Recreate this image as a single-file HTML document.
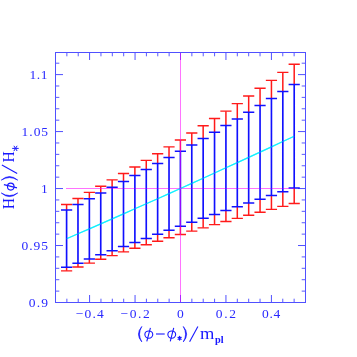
<!DOCTYPE html>
<html><head><meta charset="utf-8"><title>plot</title>
<style>
html,body{margin:0;padding:0;background:#fff;}
svg{display:block;font-family:"Liberation Serif",serif;}
</style></head><body>
<svg width="357" height="357" viewBox="0 0 357 357">
<defs><filter id="idf" x="0" y="0" width="357" height="357" filterUnits="userSpaceOnUse" color-interpolation-filters="sRGB"><feOffset dx="0" dy="0"/></filter></defs>
<rect width="357" height="357" fill="#fff"/>
<!-- frame -->
<g stroke="#5050ff" fill="none" stroke-width="1">
<rect x="55.5" y="52.5" width="250" height="250"/>
<path d="M89.59 52.5v7.5M89.59 302.5v-7.5M135.05 52.5v7.5M135.05 302.5v-7.5M180.50 52.5v7.5M180.50 302.5v-7.5M225.95 52.5v7.5M225.95 302.5v-7.5M271.41 52.5v7.5M271.41 302.5v-7.5M55.5 245.53h7.5M305.5 245.53h-7.5M55.5 188.55h7.5M305.5 188.55h-7.5M55.5 131.57h7.5M305.5 131.57h-7.5M55.5 74.60h7.5M305.5 74.60h-7.5"/>
<path stroke="#5a5aff" d="M66.86 52.5v3.8M66.86 302.5v-3.8M78.23 52.5v3.8M78.23 302.5v-3.8M100.96 52.5v3.8M100.96 302.5v-3.8M112.32 52.5v3.8M112.32 302.5v-3.8M123.68 52.5v3.8M123.68 302.5v-3.8M146.41 52.5v3.8M146.41 302.5v-3.8M157.77 52.5v3.8M157.77 302.5v-3.8M169.14 52.5v3.8M169.14 302.5v-3.8M191.86 52.5v3.8M191.86 302.5v-3.8M203.23 52.5v3.8M203.23 302.5v-3.8M214.59 52.5v3.8M214.59 302.5v-3.8M237.32 52.5v3.8M237.32 302.5v-3.8M248.68 52.5v3.8M248.68 302.5v-3.8M260.04 52.5v3.8M260.04 302.5v-3.8M282.77 52.5v3.8M282.77 302.5v-3.8M294.13 52.5v3.8M294.13 302.5v-3.8M55.5 291.11h3.8M305.5 291.11h-3.8M55.5 279.71h3.8M305.5 279.71h-3.8M55.5 268.31h3.8M305.5 268.31h-3.8M55.5 256.92h3.8M305.5 256.92h-3.8M55.5 234.13h3.8M305.5 234.13h-3.8M55.5 222.74h3.8M305.5 222.74h-3.8M55.5 211.34h3.8M305.5 211.34h-3.8M55.5 199.95h3.8M305.5 199.95h-3.8M55.5 177.16h3.8M305.5 177.16h-3.8M55.5 165.76h3.8M305.5 165.76h-3.8M55.5 154.37h3.8M305.5 154.37h-3.8M55.5 142.97h3.8M305.5 142.97h-3.8M55.5 120.18h3.8M305.5 120.18h-3.8M55.5 108.78h3.8M305.5 108.78h-3.8M55.5 97.39h3.8M305.5 97.39h-3.8M55.5 85.99h3.8M305.5 85.99h-3.8M55.5 63.20h3.8M305.5 63.20h-3.8"/>
</g>
<!-- red error bars -->
<g stroke="#ff1a1a" fill="none">
<path stroke-width="1.5" d="M66.60 204.49V210.05M66.60 267.36V270.87M77.98 198.48V204.44M77.98 263.17V266.95M89.36 192.38V198.78M89.36 258.99V263.10M100.74 186.19V193.06M100.74 254.83V259.31M112.12 179.89V187.28M112.12 250.69V255.58M123.50 173.50V181.44M123.50 246.57V251.91M134.88 167.00V175.53M134.88 242.47V248.30M146.26 160.40V169.55M146.26 238.39V244.75M157.64 153.70V163.51M157.64 234.33V241.25M169.02 146.89V157.39M169.02 230.30V237.82M180.40 139.97V151.20M180.40 226.30V234.44M191.78 132.94V144.92M191.78 222.32V231.12M203.16 125.79V138.57M203.16 218.37V227.85M214.54 118.53V132.13M214.54 214.46V224.63M225.92 111.15V125.60M225.92 210.57V221.47M237.30 103.65V118.99M237.30 206.72V218.36M248.68 96.03V112.28M248.68 202.91V215.30M260.06 88.29V105.48M260.06 199.13V212.29M271.44 80.42V98.57M271.44 195.40V209.33M282.82 72.42V91.57M282.82 191.70V206.41M294.20 64.29V84.46M294.20 188.04V203.55"/>
<path stroke-width="1.4" d="M61.00 204.49H72.20M61.00 270.87H72.20M72.38 198.48H83.58M72.38 266.95H83.58M83.76 192.38H94.96M83.76 263.10H94.96M95.14 186.19H106.34M95.14 259.31H106.34M106.52 179.89H117.72M106.52 255.58H117.72M117.90 173.50H129.10M117.90 251.91H129.10M129.28 167.00H140.48M129.28 248.30H140.48M140.66 160.40H151.86M140.66 244.75H151.86M152.04 153.70H163.24M152.04 241.25H163.24M163.42 146.89H174.62M163.42 237.82H174.62M174.80 139.97H186.00M174.80 234.44H186.00M186.18 132.94H197.38M186.18 231.12H197.38M197.56 125.79H208.76M197.56 227.85H208.76M208.94 118.53H220.14M208.94 224.63H220.14M220.32 111.15H231.52M220.32 221.47H231.52M231.70 103.65H242.90M231.70 218.36H242.90M243.08 96.03H254.28M243.08 215.30H254.28M254.46 88.29H265.66M254.46 212.29H265.66M265.84 80.42H277.04M265.84 209.33H277.04M277.22 72.42H288.42M277.22 206.41H288.42M288.60 64.29H299.80M288.60 203.55H299.80"/>
</g>
<path stroke="#10f0ff" stroke-width="1.15" fill="none" d="M66.60 238.75 L77.98 233.81 L89.36 228.86 L100.74 223.88 L112.12 218.89 L123.50 213.88 L134.88 208.84 L146.26 203.78 L157.64 198.71 L169.02 193.62 L180.40 188.50 L191.78 183.37 L203.16 178.21 L214.54 173.03 L225.92 167.84 L237.30 162.62 L248.68 157.39 L260.06 152.13 L271.44 146.86 L282.82 141.56 L294.20 136.25"/>
<path stroke="#ff00ff" stroke-opacity="0.4" stroke-width="1" fill="none" d="M66 188.5H294.5"/>
<!-- blue error bars -->
<g stroke="#1010ff" fill="none">
<path stroke-width="1.65" d="M66.60 210.05V267.36M77.98 204.44V263.17M89.36 198.78V258.99M100.74 193.06V254.83M112.12 187.28V250.69M123.50 181.44V246.57M134.88 175.53V242.47M146.26 169.55V238.39M157.64 163.51V234.33M169.02 157.39V230.30M180.40 151.20V226.30M191.78 144.92V222.32M203.16 138.57V218.37M214.54 132.13V214.46M225.92 125.60V210.57M237.30 118.99V206.72M248.68 112.28V202.91M260.06 105.48V199.13M271.44 98.57V195.40M282.82 91.57V191.70M294.20 84.46V188.04"/>
<path stroke-width="1.5" d="M61.00 210.05H72.20M61.00 267.36H72.20M72.38 204.44H83.58M72.38 263.17H83.58M83.76 198.78H94.96M83.76 258.99H94.96M95.14 193.06H106.34M95.14 254.83H106.34M106.52 187.28H117.72M106.52 250.69H117.72M117.90 181.44H129.10M117.90 246.57H129.10M129.28 175.53H140.48M129.28 242.47H140.48M140.66 169.55H151.86M140.66 238.39H151.86M152.04 163.51H163.24M152.04 234.33H163.24M163.42 157.39H174.62M163.42 230.30H174.62M174.80 151.20H186.00M174.80 226.30H186.00M186.18 144.92H197.38M186.18 222.32H197.38M197.56 138.57H208.76M197.56 218.37H208.76M208.94 132.13H220.14M208.94 214.46H220.14M220.32 125.60H231.52M220.32 210.57H231.52M231.70 118.99H242.90M231.70 206.72H242.90M243.08 112.28H254.28M243.08 202.91H254.28M254.46 105.48H265.66M254.46 199.13H265.66M265.84 98.57H277.04M265.84 195.40H277.04M277.22 91.57H288.42M277.22 191.70H288.42M288.60 84.46H299.80M288.60 188.04H299.80"/>
</g>
<!-- reference lines -->
<path stroke="#ff00ff" stroke-opacity="0.55" stroke-width="1" fill="none" d="M180.5 53V302"/>
<path stroke="#ff00ff" stroke-opacity="0.25" stroke-width="1" fill="none" d="M66 188.5H294.5"/>
<path stroke="#10f0ff" stroke-opacity="0.45" stroke-width="1.15" fill="none" d="M66.60 238.75 L77.98 233.81 L89.36 228.86 L100.74 223.88 L112.12 218.89 L123.50 213.88 L134.88 208.84 L146.26 203.78 L157.64 198.71 L169.02 193.62 L180.40 188.50 L191.78 183.37 L203.16 178.21 L214.54 173.03 L225.92 167.84 L237.30 162.62 L248.68 157.39 L260.06 152.13 L271.44 146.86 L282.82 141.56 L294.20 136.25"/>
<g fill="#2a2aff" font-size="13.5px" filter="url(#idf)">
<text x="29.61" y="79.10" textLength="17.90" lengthAdjust="spacing">1.1</text><text x="21.51" y="136.00" textLength="26.61" lengthAdjust="spacing">1.05</text><text x="41.01" y="192.80">1</text><text x="21.39" y="249.50" textLength="26.64" lengthAdjust="spacing">0.95</text><text x="28.79" y="306.50" textLength="19.17" lengthAdjust="spacing">0.9</text>
<text x="75.73" y="317.80" textLength="28.09" lengthAdjust="spacing">−0.4</text><text x="120.62" y="317.80" textLength="29.12" lengthAdjust="spacing">−0.2</text><text x="176.99" y="317.80">0</text><text x="215.79" y="317.80" textLength="20.16" lengthAdjust="spacing">0.2</text><text x="261.99" y="317.80" textLength="18.32" lengthAdjust="spacing">0.4</text>
</g>
<!-- y axis label -->
<g filter="url(#idf)"><g transform="translate(14.2 209) rotate(-90)" fill="#1818ff" stroke="#1818ff" stroke-width="0" font-size="17px">
<text transform="translate(-0.3 0) scale(0.92 1)" x="0" y="0">H</text>
<text transform="translate(46.6 0) scale(0.92 1)" x="0" y="0">H</text>
<g stroke-width="0.7" stroke-linejoin="round">
<path d="M16 -12.9Q8.9 -4.7 16 3.5Q10.9 -4.7 16 -12.9Z"/>
<path d="M28.9 -12.9Q36 -4.7 28.9 3.5Q34 -4.7 28.9 -12.9Z"/>
</g>
<g fill="none" stroke-width="1.1">
<ellipse cx="22.4" cy="-3.45" rx="3.5" ry="3.3"/>
<path d="M24.4 -10.3L21.1 2.8"/>
<path d="M35.6 3L43.9 -12.3"/>
<path stroke-width="1" d="M60.6 -2V4.5M58 -0.3L63.2 2.9M63.2 -0.3L58 2.9"/>
</g>
</g>
<!-- x axis label -->
<g fill="#1818ff" stroke="#1818ff" stroke-width="0" font-size="17px">
<g stroke-width="0.7" stroke-linejoin="round">
<path d="M141.8 326.5Q135.1 334.2 141.8 341.9Q137.2 334.2 141.8 326.5Z"/>
<path d="M183.3 326.5Q190 334.2 183.3 341.9Q187.9 334.2 183.3 326.5Z"/>
</g>
<g fill="none" stroke-width="1.1">
<ellipse cx="148.8" cy="334.6" rx="3.95" ry="3.65"/>
<path d="M150.4 327.9L146.8 341.4"/>
<path d="M156 334H164.7"/>
<ellipse cx="171.75" cy="334.6" rx="3.9" ry="3.65"/>
<path d="M173.7 327.9L170.3 341.4"/>
<path d="M189.6 341.7L197.9 326.5"/>
<path stroke-width="1.3" stroke-linecap="round" d="M179.6 336.5V340.1M178.1 337.4L181.1 339.2M181.1 337.4L178.1 339.2"/>
</g>
<text x="199.9" y="338.8" textLength="14.4" lengthAdjust="spacingAndGlyphs">m</text>
<text x="215" y="343" font-size="9.5px" font-weight="bold" textLength="8.6" lengthAdjust="spacingAndGlyphs">pl</text>
</g></g>
</svg>
</body></html>
